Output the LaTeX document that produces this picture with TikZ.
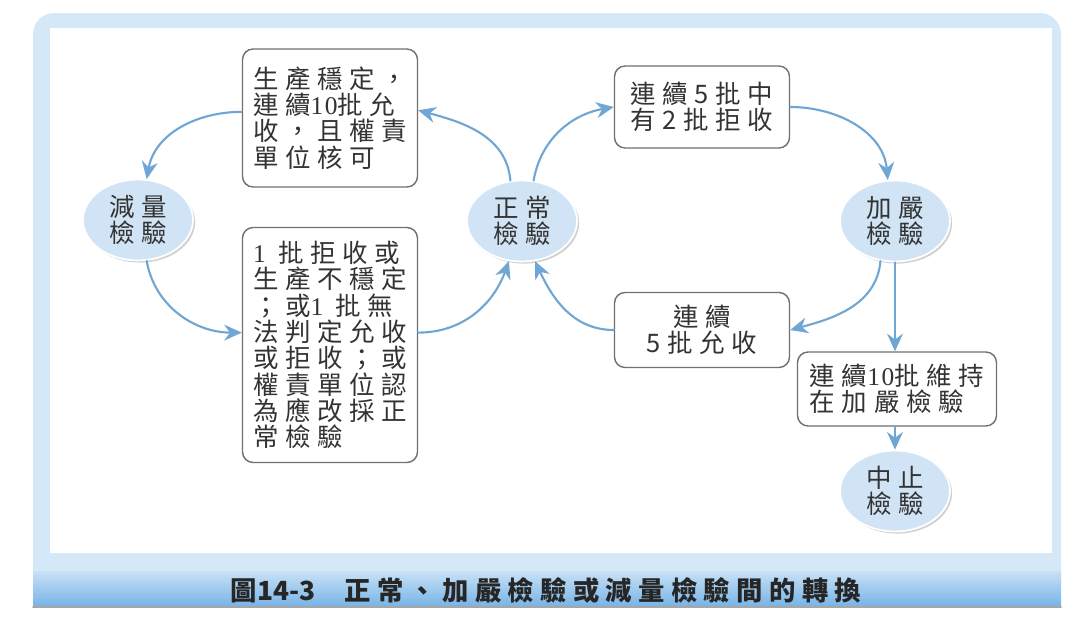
\documentclass[tikz,border=0pt]{standalone}
\usepackage{fontspec}
\newfontfamily\cjk[LetterSpace=26]{Noto Sans CJK TC}
\newfontfamily\capfont[LetterSpace=24]{Noto Sans CJK TC}
\newfontfamily\captight{Noto Sans CJK TC}
\newfontfamily\numfont[LetterSpace=6]{Liberation Serif}
\newcommand{\sn}[1]{{\numfont #1}}
\usetikzlibrary{arrows.meta,shapes.geometric,shadows}

\begin{document}
\begin{tikzpicture}[
    x=0.02cm, y=-0.02cm, % one unit = one pixel of the 1080x629 frame
    >={Stealth[length=10pt,width=9pt]},
    line cap=round,
    label style/.style={font=\cjk\fontsize{14.5}{15}\selectfont, text=black!80},
    state/.style={ellipse, fill=state_color, draw=white, line width=1pt,
        minimum width=2.2cm, minimum height=1.62cm, inner sep=0pt, align=center,
        label style,
        drop shadow={shadow xshift=1.2pt, shadow yshift=-1.2pt, fill=gray!45, opacity=0.8}},
    rule box/.style={draw=box_edge, rounded corners=6pt, fill=white,
        line width=0.8pt, align=left, inner sep=0pt, label style},
    flow/.style={->, draw=arrow_color, line width=1.2pt}
]

% --- 1. SETTINGS & COLORS ---
\definecolor{frame_color}{HTML}{D5E8F8}
\definecolor{state_color}{HTML}{D0E4F5}
\definecolor{box_edge}{HTML}{707070}
\definecolor{arrow_color}{HTML}{6FA6D4}
\definecolor{bar_top}{HTML}{C8E1F6}
\definecolor{bar_bottom}{HTML}{78B4E6}

\useasboundingbox (0,0) rectangle (1080,629);

% --- 2. FRAME & CAPTION BAR ---
\fill[frame_color, rounded corners=12pt] (33,13) rectangle (1061,606);
\fill[white] (50,28) rectangle (1052,553);
\shade[top color=bar_top, bottom color=bar_bottom] (33,571) rectangle (1061,606);
\draw[gray!70, line width=1pt] (33,607) -- (1061,607);
\node[font=\bfseries\fontsize{15}{17}\selectfont, text=black!85] (title) at (546,590)
    {{\capfont 圖}{\captight 14-3}\hspace{1.1em}{\capfont 正常、加嚴檢驗或減量檢驗間的轉換}};

% --- 3. STATES ---
\node[state] (reduced)   at (138,220) {減量\\檢驗};
\node[state] (normal)    at (522,221) {正常\\檢驗};
\node[state] (tightened) at (895,221) {加嚴\\檢驗};
\node[state] (stopped)   at (895,491) {中止\\檢驗};

% --- 4. SWITCHING RULES ---
\node[rule box, minimum width=3.5cm, minimum height=2.76cm] (toReduced) at (330,118)
    {生產穩定，\\連續\sn{10}批允\\收，且權責\\單位核可};
\node[rule box, minimum width=3.5cm, minimum height=4.7cm] (toNormal) at (330,345)
    {\sn{1} 批拒收或\\生產不穩定\\；或\sn{1} 批無\\法判定允收\\或拒收；或\\權責單位認\\為應改採正\\常檢驗};
\node[rule box, minimum width=3.5cm, minimum height=1.64cm, align=center] (toTight) at (702,107)
    {連續5批中\\有2批拒收};
\node[rule box, minimum width=3.5cm, minimum height=1.5cm, align=center] (backNormal) at (702,330)
    {連續\\5批允收};
\node[rule box, minimum width=3.98cm, minimum height=1.48cm] (keepTight) at (897,389)
    {連續\sn{10}批維持\\在加嚴檢驗};

% --- 5. CONNECTORS ---
\draw[flow] (toReduced.176) to[out=180, in=80] (reduced.78);
\draw[flow] (reduced.282) to[out=-80, in=180] (toNormal.172);
\draw[flow] (toNormal.8) to[out=0, in=-110] (normal.252);
\draw[flow] (normal.106) to[out=95, in=-15] (toReduced.5);
\draw[flow] (normal.74) to[out=80, in=190] (toTight.west);
\draw[flow] (toTight.east) to[out=0, in=95] (tightened.100);
\draw[flow] (tightened.250) to[out=-95, in=15] (backNormal.east);
\draw[flow] (backNormal.west) to[out=180, in=-65] (normal.288);
\draw[flow] (tightened.south) -- (tightened.south |- keepTight.north);
\draw[flow] (keepTight.south -| tightened.south) -- (stopped.north -| tightened.south);

\end{tikzpicture}
\end{document}
